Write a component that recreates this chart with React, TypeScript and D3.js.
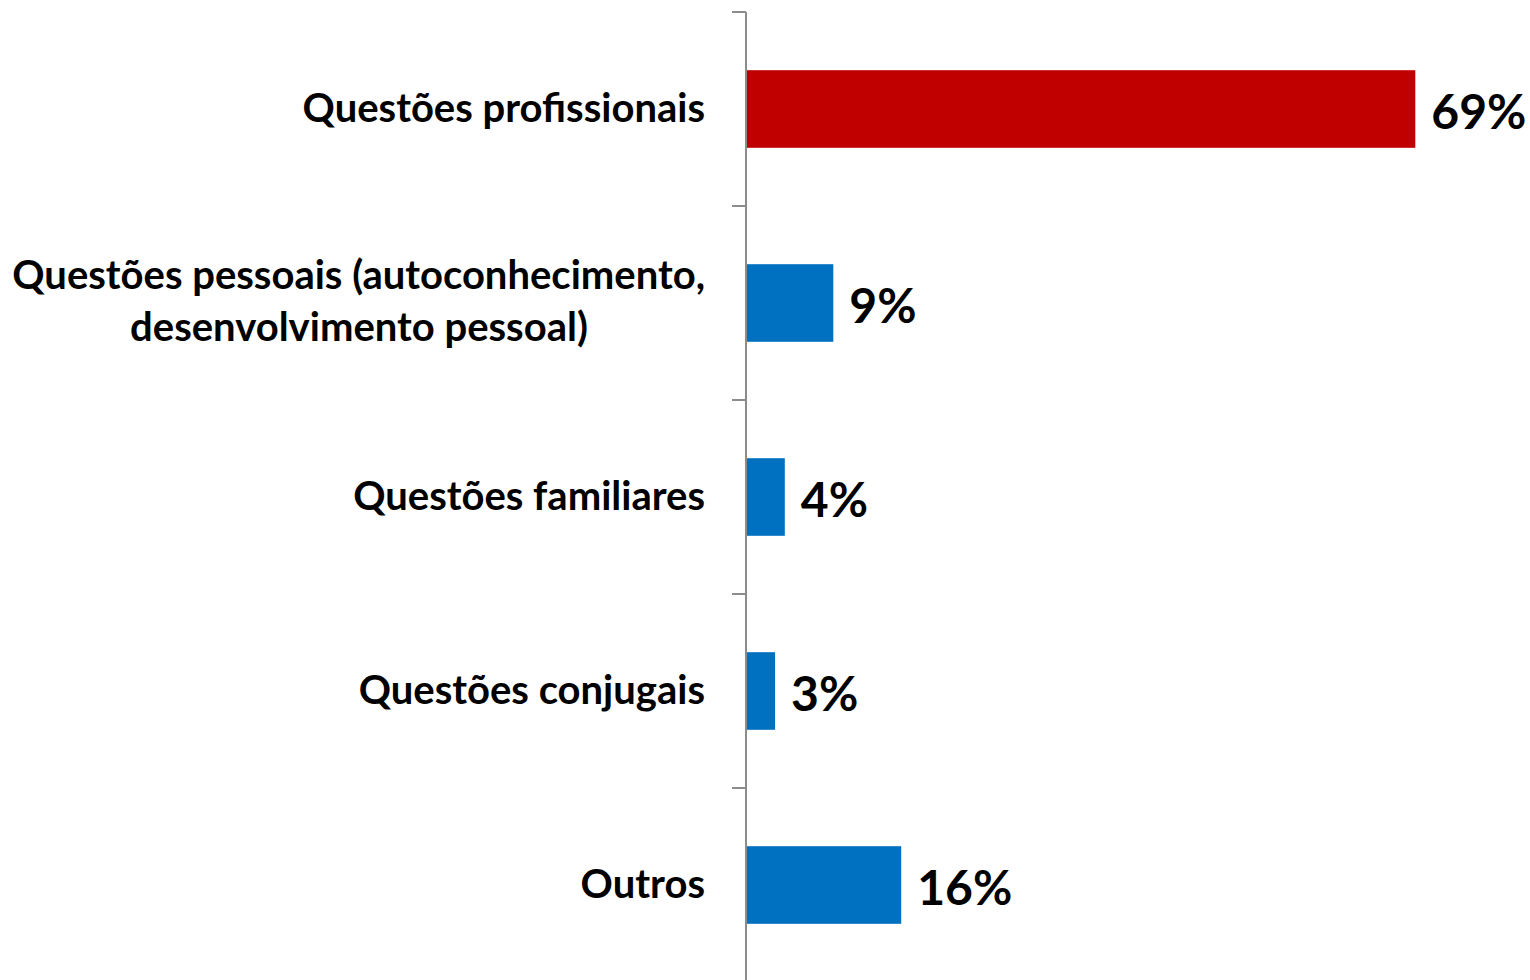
import React from "react";
import * as d3 from "d3";

const categories: string[][] = [
  ["Questões profissionais"],
  ["Questões pessoais (autoconhecimento,", "desenvolvimento pessoal)"],
  ["Questões familiares"],
  ["Questões conjugais"],
  ["Outros"],
];
const values: number[] = [69, 9, 4, 3, 16];
const colors: string[] = ["#C00000", "#0070C0", "#0070C0", "#0070C0", "#0070C0"];

const W = 1530;
const H = 980;
const axisX = 746;
const top = 12;
const bandH = 194;

export default function App() {
  const keys = categories.map((_, i) => String(i));
  const y = d3.scaleBand<string>().domain(keys).range([top, top + bandH * keys.length]).paddingInner(0.6).paddingOuter(0.3);
  const x = d3.scaleLinear().domain([0, 80]).range([axisX, axisX + 776]);
  const font = "Lato, 'Open Sans', sans-serif";
  const ticks = d3.range(keys.length + 1).map((i) => top + i * bandH);
  return (
    <svg width={W} height={H} style={{ position: "absolute", left: 0, top: 0, background: "#fff" }}>
      {values.map((v, i) => {
        const yy = y(String(i))!;
        return (
          <rect key={i} x={x(0)} y={yy} width={x(v) - x(0)} height={y.bandwidth()} fill={colors[i]} />
        );
      })}
      <line x1={axisX} x2={axisX} y1={top} y2={H} stroke="#8c8c8c" strokeWidth={2} />
      {ticks.map((t, i) => (
        <line key={i} x1={axisX - 14} x2={axisX} y1={t} y2={t} stroke="#8c8c8c" strokeWidth={2} />
      ))}
      {categories.map((lines, i) => {
        const cy = y(String(i))! + y.bandwidth() / 2;
        if (lines.length === 1) {
          return (
            <text key={i} x={705} y={cy - 2} textAnchor="end" dominantBaseline="central" fontFamily={font} fontWeight={700} fontSize={40} fill="#000">
              {lines[0]}
            </text>
          );
        }
        const lh = 52;
        return (
          <g key={i}>
            {lines.map((l, j) => (
              <text key={j} x={j === 0 ? 705 : 359} y={cy + (j - (lines.length - 1) / 2) * lh - 3} textAnchor={j === 0 ? "end" : "middle"} dominantBaseline="central" fontFamily={font} fontWeight={700} fontSize={40} fill="#000">
                {l}
              </text>
            ))}
          </g>
        );
      })}
      {values.map((v, i) => (
        <text key={i} x={x(v) + 16} y={y(String(i))! + y.bandwidth() / 2 + 1} dominantBaseline="central" fontFamily={font} fontWeight={700} fontSize={48} fill="#000">
          {v}%
        </text>
      ))}
    </svg>
  );
}
